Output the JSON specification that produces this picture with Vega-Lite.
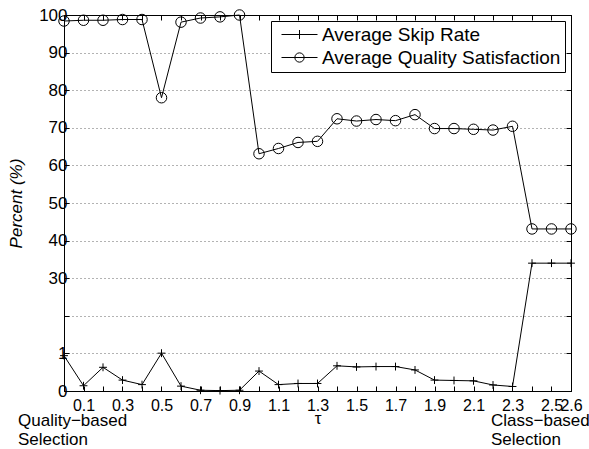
{
  "$schema": "https://vega.github.io/schema/vega-lite/v6.json",
  "autosize": {"type": "none"},
  "width": 507,
  "height": 376,
  "padding": {"left": 64, "top": 15, "right": 18, "bottom": 58},
  "background": "white",
  "config": {
    "font": "Liberation Sans",
    "view": {"stroke": "black", "strokeWidth": 1},
    "axis": {
      "labelFont": "Liberation Sans",
      "labelFontSize": 16,
      "labelColor": "black",
      "titleFont": "Liberation Sans",
      "titleColor": "black",
      "titleFontWeight": "normal",
      "domainColor": "black",
      "tickColor": "black",
      "tickSize": -5,
      "labelOverlap": false,
      "labelFlush": false
    }
  },
  "data": {
    "values": [
      {"tau": 0.0, "series": "Average Skip Rate", "v": 0.94},
      {"tau": 0.1, "series": "Average Skip Rate", "v": 0.14},
      {"tau": 0.2, "series": "Average Skip Rate", "v": 0.63},
      {"tau": 0.3, "series": "Average Skip Rate", "v": 0.29},
      {"tau": 0.4, "series": "Average Skip Rate", "v": 0.17},
      {"tau": 0.5, "series": "Average Skip Rate", "v": 1.09},
      {"tau": 0.6, "series": "Average Skip Rate", "v": 0.13},
      {"tau": 0.7, "series": "Average Skip Rate", "v": 0.02},
      {"tau": 0.8, "series": "Average Skip Rate", "v": 0.01},
      {"tau": 0.9, "series": "Average Skip Rate", "v": 0.02},
      {"tau": 1.0, "series": "Average Skip Rate", "v": 0.53},
      {"tau": 1.1, "series": "Average Skip Rate", "v": 0.17},
      {"tau": 1.2, "series": "Average Skip Rate", "v": 0.2},
      {"tau": 1.3, "series": "Average Skip Rate", "v": 0.2},
      {"tau": 1.4, "series": "Average Skip Rate", "v": 0.67},
      {"tau": 1.5, "series": "Average Skip Rate", "v": 0.64},
      {"tau": 1.6, "series": "Average Skip Rate", "v": 0.65},
      {"tau": 1.7, "series": "Average Skip Rate", "v": 0.65},
      {"tau": 1.8, "series": "Average Skip Rate", "v": 0.56},
      {"tau": 1.9, "series": "Average Skip Rate", "v": 0.29},
      {"tau": 2.0, "series": "Average Skip Rate", "v": 0.28},
      {"tau": 2.1, "series": "Average Skip Rate", "v": 0.27},
      {"tau": 2.2, "series": "Average Skip Rate", "v": 0.16},
      {"tau": 2.3, "series": "Average Skip Rate", "v": 0.12},
      {"tau": 2.4, "series": "Average Skip Rate", "v": 34},
      {"tau": 2.5, "series": "Average Skip Rate", "v": 34},
      {"tau": 2.6, "series": "Average Skip Rate", "v": 34},
      {"tau": 0.0, "series": "Average Quality Satisfaction", "v": 98.4},
      {"tau": 0.1, "series": "Average Quality Satisfaction", "v": 98.6},
      {"tau": 0.2, "series": "Average Quality Satisfaction", "v": 98.6},
      {"tau": 0.3, "series": "Average Quality Satisfaction", "v": 98.8},
      {"tau": 0.4, "series": "Average Quality Satisfaction", "v": 98.8},
      {"tau": 0.5, "series": "Average Quality Satisfaction", "v": 78.0},
      {"tau": 0.6, "series": "Average Quality Satisfaction", "v": 98.1},
      {"tau": 0.7, "series": "Average Quality Satisfaction", "v": 99.2},
      {"tau": 0.8, "series": "Average Quality Satisfaction", "v": 99.5},
      {"tau": 0.9, "series": "Average Quality Satisfaction", "v": 100},
      {"tau": 1.0, "series": "Average Quality Satisfaction", "v": 63.1},
      {"tau": 1.1, "series": "Average Quality Satisfaction", "v": 64.5},
      {"tau": 1.2, "series": "Average Quality Satisfaction", "v": 66.1},
      {"tau": 1.3, "series": "Average Quality Satisfaction", "v": 66.4},
      {"tau": 1.4, "series": "Average Quality Satisfaction", "v": 72.4},
      {"tau": 1.5, "series": "Average Quality Satisfaction", "v": 71.8},
      {"tau": 1.6, "series": "Average Quality Satisfaction", "v": 72.2},
      {"tau": 1.7, "series": "Average Quality Satisfaction", "v": 71.9},
      {"tau": 1.8, "series": "Average Quality Satisfaction", "v": 73.5},
      {"tau": 1.9, "series": "Average Quality Satisfaction", "v": 69.8},
      {"tau": 2.0, "series": "Average Quality Satisfaction", "v": 69.8},
      {"tau": 2.1, "series": "Average Quality Satisfaction", "v": 69.6},
      {"tau": 2.2, "series": "Average Quality Satisfaction", "v": 69.4},
      {"tau": 2.3, "series": "Average Quality Satisfaction", "v": 70.4},
      {"tau": 2.4, "series": "Average Quality Satisfaction", "v": 43.1},
      {"tau": 2.5, "series": "Average Quality Satisfaction", "v": 43.1},
      {"tau": 2.6, "series": "Average Quality Satisfaction", "v": 43.1}
    ]
  },
  "layer": [
    {
      "mark": {"type": "line", "color": "black", "strokeWidth": 1},
      "encoding": {
        "x": {
          "field": "tau", "type": "quantitative",
          "scale": {"domain": [0, 2.6], "nice": false, "zero": false},
          "axis": {
            "orient": "bottom",
            "values": [0.1,0.2,0.3,0.4,0.5,0.6,0.7,0.8,0.9,1.0,1.1,1.2,1.3,1.4,1.5,1.6,1.7,1.8,1.9,2.0,2.1,2.2,2.3,2.4,2.5,2.6],
            "labelExpr": "indexof(['0.1','0.3','0.5','0.7','0.9','1.1','1.3','1.5','1.7','1.9','2.1','2.3','2.5','2.6'], format(datum.value,'.1f')) >= 0 ? format(datum.value,'.1f') : ''",
            "grid": false,
            "labelPadding": 11,
            "title": "τ",
            "titleFontSize": 17,
            "titlePadding": -3
          }
        },
        "y": {
          "field": "v", "type": "quantitative",
          "scale": {"domain": [0, 1, 30, 100], "range": [376, 338.4, 263.2, 0], "nice": false, "zero": false},
          "axis": {
            "orient": "left",
            "values": [0, 1, 15.5, 30, 40, 50, 60, 70, 80, 90, 100],
            "labelExpr": "datum.value == 15.5 ? '' : datum.label",
            "labelFontSize": 17,
            "grid": true,
            "gridDash": [1, 3],
            "gridColor": "#666666",
            "gridWidth": 1,
            "labelPadding": 2,
            "title": "Percent (%)",
            "titleFontSize": 17,
            "titleFontStyle": "italic",
            "titlePadding": 13
          }
        },
        "detail": {"field": "series"}
      }
    },
    {
      "mark": {"type": "point", "filled": false, "stroke": "black", "strokeWidth": 1, "opacity": 1, "size": 110, "clip": false},
      "encoding": {
        "x": {
          "field": "tau", "type": "quantitative",
          "axis": {
            "orient": "top",
            "values": [0.1,0.2,0.3,0.4,0.5,0.6,0.7,0.8,0.9,1.0,1.1,1.2,1.3,1.4,1.5,1.6,1.7,1.8,1.9,2.0,2.1,2.2,2.3,2.4,2.5,2.6],
            "labels": false, "grid": false, "title": null
          }
        },
        "y": {
          "field": "v", "type": "quantitative",
          "axis": {
            "orient": "right",
            "values": [0, 1, 15.5, 30, 40, 50, 60, 70, 80, 90, 100],
            "labels": false, "grid": false, "title": null
          }
        },
        "shape": {
          "field": "series", "type": "nominal",
          "scale": {
            "domain": ["Average Skip Rate", "Average Quality Satisfaction"],
            "range": ["M-0.75,0H0.75M0,-0.75V0.75", "circle"]
          },
          "legend": null
        }
      }
    },
    {
      "mark": {"type": "point", "filled": false, "stroke": "black", "strokeWidth": 1, "opacity": 0, "size": 0},
      "encoding": {
        "x": {"field": "tau", "type": "quantitative", "axis": null},
        "y": {"field": "v", "type": "quantitative", "axis": null},
        "shape": {
          "field": "series", "type": "nominal",
          "scale": {
            "domain": ["Average Skip Rate", "Average Quality Satisfaction"],
            "range": ["M-3.6,0H3.6M0,-0.9V0.9", "M-3.6,0H3.6M-0.93,0A0.93,0.93 0 1,1 0.93,0A0.93,0.93 0 1,1 -0.93,0"]
          },
          "legend": {
            "title": null,
            "orient": "top-right",
            "offset": 6,
            "strokeColor": "black",
            "fillColor": "white",
            "padding": 4,
            "cornerRadius": 0,
            "rowPadding": 3,
            "labelFont": "Liberation Sans",
            "labelFontSize": 19,
            "labelColor": "black",
            "labelLimit": 400,
            "symbolSize": 100,
            "symbolOffset": 15,
            "labelOffset": 13,
            "symbolStrokeColor": "black",
            "symbolFillColor": "transparent",
            "symbolStrokeWidth": 1,
            "encode": {
              "symbols": {
                "size": {"value": 100},
                "stroke": {"value": "black"},
                "fill": {"value": "transparent"},
                "strokeWidth": {"value": 1},
                "opacity": {"value": 1}
              }
            }
          }
        }
      }
    },
    {
      "data": {"values": [{}]},
      "mark": {"type": "text", "align": "left", "baseline": "top", "fontSize": 17, "lineHeight": 19, "dx": -46, "dy": 22, "color": "black", "text": ["Quality−based", "Selection"]},
      "encoding": {
        "x": {"datum": 0, "type": "quantitative", "axis": null},
        "y": {"datum": 0, "type": "quantitative", "axis": null}
      }
    },
    {
      "data": {"values": [{}]},
      "mark": {"type": "text", "align": "left", "baseline": "top", "fontSize": 17, "lineHeight": 19, "dx": -80, "dy": 22, "color": "black", "text": ["Class−based", "Selection"]},
      "encoding": {
        "x": {"datum": 2.6, "type": "quantitative", "axis": null},
        "y": {"datum": 0, "type": "quantitative", "axis": null}
      }
    }
  ],
  "resolve": {"axis": {"x": "independent", "y": "independent"}, "scale": {"shape": "independent"}}
}
